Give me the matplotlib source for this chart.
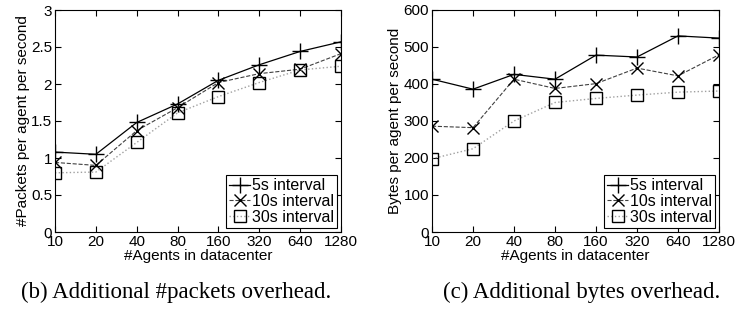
import matplotlib
matplotlib.use("Agg")
import matplotlib.pyplot as plt
import numpy as np

plt.rcParams['font.family'] = ['Liberation Sans', 'DejaVu Sans']

agents = ['10', '20', '40', '80', '160', '320', '640', '1280']
labels = ['5s interval', '10s interval', '30s interval']

# packets per agent per second
pk_5s = [1.08, 1.05, 1.48, 1.73, 2.05, 2.26, 2.44, 2.57]
pk_10s = [0.94, 0.90, 1.37, 1.68, 2.02, 2.14, 2.20, 2.41]
pk_30s = [0.80, 0.81, 1.21, 1.61, 1.83, 2.02, 2.19, 2.24]

# bytes per agent per second
by_5s = [413, 386, 426, 413, 478, 473, 530, 524]
by_10s = [286, 282, 413, 388, 401, 443, 422, 479]
by_30s = [198, 225, 300, 350, 361, 370, 378, 381]

x = np.arange(len(agents))

fig = plt.figure(figsize=(7.44, 3.09), dpi=100)
ax1 = fig.add_axes([55/744, 1-232/309, 286/744, 222/309])
ax2 = fig.add_axes([432/744, 1-232/309, 287/744, 222/309])

styles = [dict(color='black', linestyle='-', marker='+', markersize=11, linewidth=0.9),
          dict(color='#404040', linestyle='--', marker='x', markersize=8, linewidth=0.8,
               markeredgecolor='black'),
          dict(color='#a0a0a0', linestyle=':', marker='s', markersize=8.5, linewidth=1.0,
               markerfacecolor='none', markeredgecolor='black')]

def draw(ax, series, ylabel, ylim, yticks, yticklabels):
    for s, lab, st in zip(series, labels, styles):
        ax.plot(x, s, label=lab, markeredgewidth=1.0, **st)
    ax.set_xlim(0, 7)
    ax.set_ylim(*ylim)
    ax.set_xticks(x)
    ax.set_xticklabels(agents)
    ax.set_yticks(yticks)
    ax.set_yticklabels(yticklabels)
    ax.tick_params(direction='in', top=True, right=True, labelsize=11, pad=2, length=4)
    ax.set_xlabel('#Agents in datacenter', fontsize=11, labelpad=0)
    ax.set_ylabel(ylabel, fontsize=11, labelpad=1)
    for sp in ax.spines.values():
        sp.set_linewidth(0.8)
    leg = ax.legend(loc='lower right', fontsize=11.5, fancybox=False, framealpha=1,
                    edgecolor='black', borderpad=0.2, labelspacing=0.05,
                    handlelength=1.3, handletextpad=0.1, borderaxespad=0.25)
    leg.get_frame().set_linewidth(0.8)

draw(ax1, [pk_5s, pk_10s, pk_30s], '#Packets per agent per second', (0, 3),
     [0, 0.5, 1, 1.5, 2, 2.5, 3], ['0', '0.5', '1', '1.5', '2', '2.5', '3'])
draw(ax2, [by_5s, by_10s, by_30s], 'Bytes per agent per second', (0, 600),
     [0, 100, 200, 300, 400, 500, 600], ['0', '100', '200', '300', '400', '500', '600'])

fig.text(176/744, 1-292/309, '(b) Additional #packets overhead.', family='Liberation Serif',
         fontsize=16.5, ha='center', va='center')
fig.text(582/744, 1-292/309, '(c) Additional bytes overhead.', family='Liberation Serif',
         fontsize=16.5, ha='center', va='center')

fig.savefig('out.png', dpi=100)
